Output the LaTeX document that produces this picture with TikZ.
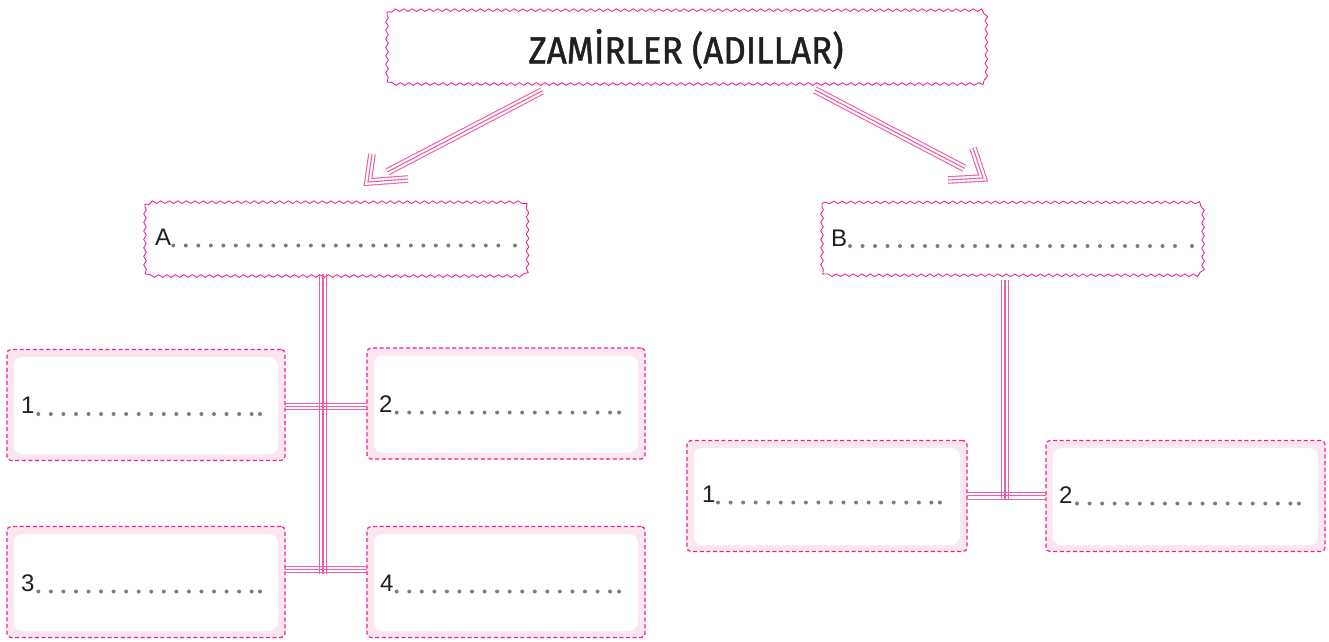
\documentclass[tikz,border=0pt]{standalone}
\usepackage{graphicx}
\usepackage{fontspec}
\setmainfont{Liberation Sans}
\newfontfamily\titlefont[FakeBold=1.3]{Fira Sans}
\usetikzlibrary{decorations.pathmorphing,calc}
\definecolor{mag}{RGB}{236,34,142}
\definecolor{pk}{RGB}{240,92,166}
\definecolor{pkfill}{RGB}{252,230,241}
\definecolor{dotgray}{RGB}{125,125,125}
\definecolor{ink}{RGB}{35,31,32}
\newcommand\dotrow[5]{%
  \foreach \k in {1,...,#3}{\fill[dotgray] ({#1+(\k-1)*#4},#2) circle (2pt);}
  \fill[dotgray] ({#1+(#3-1)*#4+#5},#2) circle (2pt);}
\newcommand\wavyframe[1]{%
  \draw[draw=mag, line width=0.85pt, decoration={snake, segment length=8.5pt, amplitude=1.3pt}]
    decorate {{[rounded corners=7pt] (#1.north west) rectangle (#1.south east)}};}
\tikzset{
  boxnode/.style={rectangle, draw=none, inner sep=0pt, outer sep=0pt},
  dashbox/.style={rectangle, draw=mag, line width=1.2pt, dash pattern=on 4pt off 2.6pt,
    rounded corners=4pt, fill=pkfill, inner sep=0pt, outer sep=0pt,
    minimum width=278pt, minimum height=111pt,
    path picture={\fill[white, rounded corners=9pt]
      ([shift={(6.5pt,-7.5pt)}]path picture bounding box.north west) rectangle
      ([shift={(-7pt,6.5pt)}]path picture bounding box.south east);}},
  lbl/.style={anchor=base west, inner sep=0pt, outer sep=0pt,
    font=\fontsize{24}{28}\selectfont, text=ink},
  trip/.style={draw=pk, line width=1.1pt, line join=miter,
    preaction={draw=pk, line width=7.6pt},
    preaction={draw=white, line width=5.4pt}},
  tline/.style={draw=pk, line width=1.1pt}
}
\begin{document}
\begin{tikzpicture}[x=1pt,y=-1pt]
\fill[white] (0,0) rectangle (1329,641);
\useasboundingbox (0,0) rectangle (1329,641);

% title box
\node[boxnode, minimum width=599pt, minimum height=74pt] (top) at (686.5,45) {};
\wavyframe{top}
\node[font=\titlefont\fontsize{38}{44}\selectfont, text=ink, inner sep=0pt] (title) at (686,49)
  {\scalebox{0.92}[1]{ZAMİRLER (ADILLAR)}};

% A and B boxes
\node[boxnode, minimum width=382pt, minimum height=74pt] (A) at (336,237) {};
\node[boxnode, minimum width=381pt, minimum height=73pt] (B) at (1012.5,236.5) {};
\wavyframe{A}
\wavyframe{B}
\node[lbl] (Alab) at (155,245) {A};
\node[lbl] (Blab) at (831,246) {B};
\dotrow{173.3}{245.5}{27}{12.5}{16.7}
\dotrow{850}{246}{27}{12.5}{17}

% small boxes
\node[dashbox] (L1) at (146,405) {};
\node[dashbox] (L2) at (506,403.5) {};
\node[dashbox] (L3) at (146,582) {};
\node[dashbox] (L4) at (506,582) {};
\node[dashbox, minimum width=280pt] (R1) at (827,496) {};
\node[dashbox, minimum width=279pt] (R2) at (1185.5,496) {};

\node[lbl] (l1) at (21,413) {1};
\node[lbl] (l2) at (379,412) {2};
\node[lbl] (l3) at (21,591) {3};
\node[lbl] (l4) at (380,591) {4};
\node[lbl] (r1) at (702,502) {1};
\node[lbl] (r2) at (1059,503) {2};
\dotrow{38.3}{414}{18}{12.55}{8.3}
\dotrow{396.7}{412.5}{18}{12.55}{9}
\dotrow{38.3}{591.5}{18}{12.55}{8.3}
\dotrow{396.7}{591.5}{18}{12.55}{9}
\dotrow{718}{502.5}{18}{12.55}{8.5}
\dotrow{1077}{503.5}{18}{12.55}{8.5}

% arrows
\coordinate (la1) at (542,91);
\coordinate (lac) at (368,182);
\draw[trip] (la1) -- ($(lac)!22pt!(la1)$);
\draw[trip] ($(lac)+(4,-28)$) -- (lac) -- ($(lac)+(40,-3)$);
\coordinate (ra1) at (815,90);
\coordinate (rac) at (983,178);
\draw[trip] (ra1) -- ($(rac)!21pt!(ra1)$);
\draw[trip] ($(rac)+(-10,-30)$) -- (rac) -- ($(rac)+(-35,2)$);

% tree connectors left
\coordinate (vA) at (323,573.5);
\coordinate (h1) at (323,406.5);
\coordinate (h2) at (323,569.5);
\foreach \s in {-3.3,0,3.3}{
  \draw[tline, transform canvas={xshift=\s pt}] (vA |- A.south) -- (vA);
  \draw[tline, transform canvas={yshift=\s pt}] (L1.east |- h1) -- (L2.west |- h1);
  \draw[tline, transform canvas={yshift=\s pt}] (L3.east |- h2) -- (L4.west |- h2);
}
% tree connectors right
\coordinate (vB) at (1005,499.5);
\coordinate (h3) at (1005,495.8);
\foreach \s in {-3.3,0,3.3}{
  \draw[tline, transform canvas={xshift=\s pt}] ($(vB |- B.south)+(0,7)$) -- (vB);
  \draw[tline, transform canvas={yshift=\s pt}] (R1.east |- h3) -- (R2.west |- h3);
}
\end{tikzpicture}
\end{document}
